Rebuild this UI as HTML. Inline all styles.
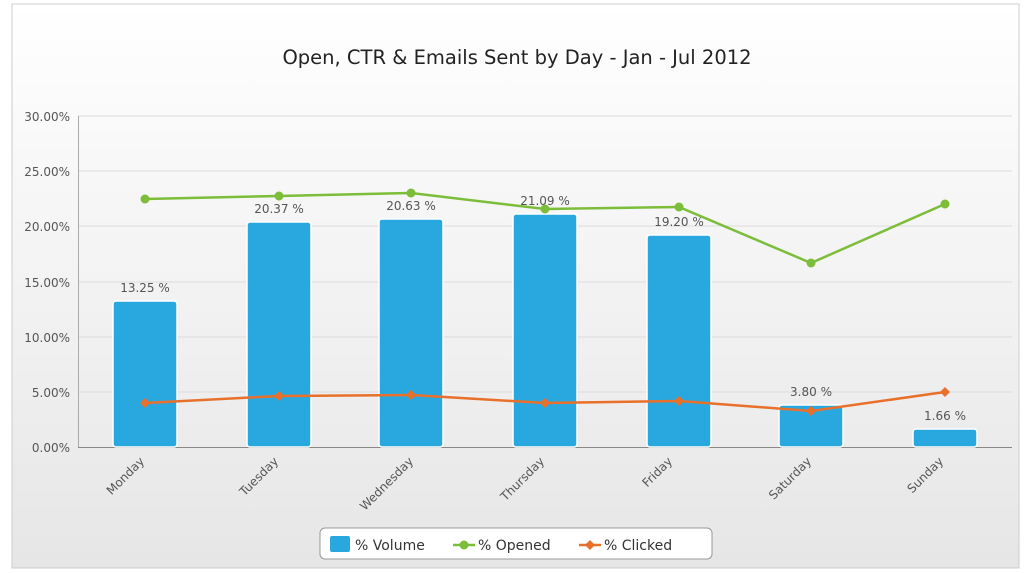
<!DOCTYPE html><html><head><style>body{margin:0}svg{display:block}</style></head><body>
<svg width="1025" height="573" xmlns="http://www.w3.org/2000/svg" font-family="DejaVu Sans, Liberation Sans, sans-serif">
<defs><linearGradient id="bg" x1="0" y1="0" x2="0" y2="1"><stop offset="0" stop-color="#ffffff"/><stop offset="1" stop-color="#e6e6e6"/></linearGradient></defs>
<rect x="0" y="0" width="1025" height="573" fill="#fff"/>
<rect x="12" y="4" width="1007" height="564" fill="url(#bg)" stroke="#ccc"/>
<text x="517" y="64" font-size="19.5" text-anchor="middle" fill="#222">Open, CTR &amp; Emails Sent by Day - Jan - Jul 2012</text>
<g stroke="#dcdcdc" stroke-width="1">
<line x1="78" y1="116" x2="1012" y2="116"/><line x1="78" y1="171" x2="1012" y2="171"/><line x1="78" y1="226" x2="1012" y2="226"/><line x1="78" y1="282" x2="1012" y2="282"/><line x1="78" y1="337" x2="1012" y2="337"/><line x1="78" y1="392" x2="1012" y2="392"/>
</g>
<line x1="78.5" y1="116" x2="78.5" y2="447" stroke="#aaa"/>
<line x1="78" y1="447.5" x2="1012" y2="447.5" stroke="#888"/>
<g font-size="12" fill="#555" text-anchor="end">
<text x="70" y="121">30.00%</text><text x="70" y="176">25.00%</text><text x="70" y="231">20.00%</text><text x="70" y="287">15.00%</text><text x="70" y="342">10.00%</text><text x="70" y="397">5.00%</text><text x="70" y="452">0.00%</text>
</g>
<g fill="#29a8e0" stroke="#fff" stroke-width="1.5">
<rect x="113" y="301" width="64" height="146" rx="3"/>
<rect x="247" y="222" width="64" height="225" rx="3"/>
<rect x="379" y="219" width="64" height="228" rx="3"/>
<rect x="513" y="214" width="64" height="233" rx="3"/>
<rect x="647" y="235" width="64" height="212" rx="3"/>
<rect x="779" y="405" width="64" height="42" rx="3"/>
<rect x="913" y="429" width="64" height="18" rx="3"/>
</g>
<g font-size="12" fill="#555" text-anchor="middle">
<text x="145" y="292">13.25 %</text><text x="279" y="213">20.37 %</text><text x="411" y="210">20.63 %</text><text x="545" y="205">21.09 %</text><text x="679" y="226">19.20 %</text><text x="811" y="396">3.80 %</text><text x="945" y="420">1.66 %</text>
</g>
<polyline points="145,199 279,196 411,193 545,209 679,207 811,263 945,204" fill="none" stroke="#7cbd3a" stroke-width="2.5"/>
<g fill="#7cbd3a"><circle cx="145" cy="199" r="4.5"/><circle cx="279" cy="196" r="4.5"/><circle cx="411" cy="193" r="4.5"/><circle cx="545" cy="209" r="4.5"/><circle cx="679" cy="207" r="4.5"/><circle cx="811" cy="263" r="4.5"/><circle cx="945" cy="204" r="4.5"/></g>
<polyline points="145,403 279,396 411,395 545,403 679,401 811,411 945,392" fill="none" stroke="#e8702a" stroke-width="2.5"/>
<g fill="#e8702a">
<path d="M145,398l5,5l-5,5l-5,-5z"/><path d="M279,391l5,5l-5,5l-5,-5z"/><path d="M411,390l5,5l-5,5l-5,-5z"/><path d="M545,398l5,5l-5,5l-5,-5z"/><path d="M679,396l5,5l-5,5l-5,-5z"/><path d="M811,406l5,5l-5,5l-5,-5z"/><path d="M945,387l5,5l-5,5l-5,-5z"/>
</g>
<g font-size="12" fill="#555" text-anchor="end">
<text transform="translate(145,462) rotate(-45)">Monday</text>
<text transform="translate(279,462) rotate(-45)">Tuesday</text>
<text transform="translate(414,462) rotate(-45)">Wednesday</text>
<text transform="translate(545,462) rotate(-45)">Thursday</text>
<text transform="translate(673,462) rotate(-45)">Friday</text>
<text transform="translate(812,462) rotate(-45)">Saturday</text>
<text transform="translate(944,462) rotate(-45)">Sunday</text>
</g>
<rect x="320" y="528" width="392" height="31" rx="5" fill="#fff" stroke="#999"/>
<rect x="330" y="536" width="20" height="16" rx="2" fill="#29a8e0"/>
<text x="355" y="550" font-size="14" fill="#333">% Volume</text>
<line x1="453" y1="545" x2="475" y2="545" stroke="#7cbd3a" stroke-width="2.5"/><circle cx="464" cy="545" r="4.5" fill="#7cbd3a"/>
<text x="478" y="550" font-size="14" fill="#333">% Opened</text>
<line x1="579" y1="545" x2="601" y2="545" stroke="#e8702a" stroke-width="2.5"/><path d="M590,540l5,5l-5,5l-5,-5z" fill="#e8702a"/>
<text x="604" y="550" font-size="14" fill="#333">% Clicked</text>
</svg>
</body></html>
